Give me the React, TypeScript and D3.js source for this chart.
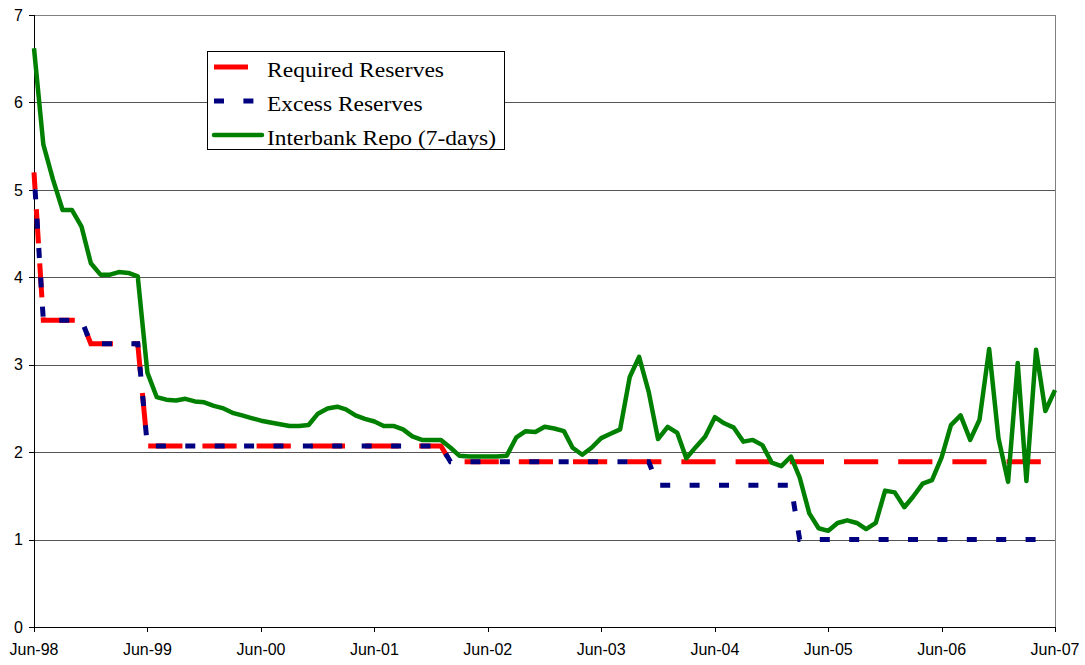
import React from "react";
import * as d3 from "d3";

const START = new Date(1998, 5, 1);
const END = new Date(2007, 5, 1);

const xTickLabels = ["Jun-98", "Jun-99", "Jun-00", "Jun-01", "Jun-02", "Jun-03", "Jun-04", "Jun-05", "Jun-06", "Jun-07"];
const yTicks = [0, 1, 2, 3, 4, 5, 6, 7];

const seriesNames = ["Required Reserves", "Excess Reserves", "Interbank Repo (7-days)"];

// Monthly values Jun-98 .. Jun-07 (109 months)
const repo = [
  6.62, 5.52, 5.12, 4.77, 4.77, 4.58, 4.16, 4.03, 4.03, 4.06, 4.05, 4.01,
  2.91, 2.63, 2.60, 2.59, 2.61, 2.58, 2.57, 2.53, 2.50, 2.45, 2.42, 2.39,
  2.36, 2.34, 2.32, 2.30, 2.30, 2.31, 2.44, 2.50, 2.52, 2.49, 2.42, 2.38,
  2.35, 2.30, 2.30, 2.26, 2.18, 2.14, 2.14, 2.14, 2.05, 1.96, 1.95, 1.95,
  1.95, 1.95, 1.96, 2.17, 2.24, 2.23, 2.29, 2.27, 2.24, 2.05, 1.97, 2.05,
  2.16, 2.21, 2.26, 2.86, 3.09, 2.69, 2.15, 2.29, 2.22, 1.93, 2.06, 2.18,
  2.40, 2.33, 2.28, 2.12, 2.14, 2.08, 1.88, 1.84, 1.95, 1.71, 1.30, 1.13,
  1.10, 1.19, 1.22, 1.19, 1.12, 1.19, 1.56, 1.54, 1.37, 1.49, 1.64, 1.68,
  1.94, 2.31, 2.42, 2.14, 2.37, 3.18, 2.16, 1.66, 3.02, 1.67, 3.17, 2.47,
  2.71,
];

const required = [
  5.2, 3.51, 3.51, 3.51, 3.51, 3.51, 3.24, 3.24, 3.24, 3.24, 3.24, 3.24,
  2.07, 2.07, 2.07, 2.07, 2.07, 2.07, 2.07, 2.07, 2.07, 2.07, 2.07, 2.07,
  2.07, 2.07, 2.07, 2.07, 2.07, 2.07, 2.07, 2.07, 2.07, 2.07, 2.07, 2.07,
  2.07, 2.07, 2.07, 2.07, 2.07, 2.07, 2.07, 2.07, 1.89, 1.89, 1.89, 1.89,
  1.89, 1.89, 1.89, 1.89, 1.89, 1.89, 1.89, 1.89, 1.89, 1.89, 1.89, 1.89,
  1.89, 1.89, 1.89, 1.89, 1.89, 1.89, 1.89, 1.89, 1.89, 1.89, 1.89, 1.89,
  1.89, 1.89, 1.89, 1.89, 1.89, 1.89, 1.89, 1.89, 1.89, 1.89, 1.89, 1.89,
  1.89, 1.89, 1.89, 1.89, 1.89, 1.89, 1.89, 1.89, 1.89, 1.89, 1.89, 1.89,
  1.89, 1.89, 1.89, 1.89, 1.89, 1.89, 1.89, 1.89, 1.89, 1.89, 1.89, 1.89,
  1.89,
];

const excess = [
  5.2, 3.51, 3.51, 3.51, 3.51, 3.51, 3.24, 3.24, 3.24, 3.24, 3.24, 3.24,
  2.07, 2.07, 2.07, 2.07, 2.07, 2.07, 2.07, 2.07, 2.07, 2.07, 2.07, 2.07,
  2.07, 2.07, 2.07, 2.07, 2.07, 2.07, 2.07, 2.07, 2.07, 2.07, 2.07, 2.07,
  2.07, 2.07, 2.07, 2.07, 2.07, 2.07, 2.07, 2.07, 1.89, 1.89, 1.89, 1.89,
  1.89, 1.89, 1.89, 1.89, 1.89, 1.89, 1.89, 1.89, 1.89, 1.89, 1.89, 1.89,
  1.89, 1.89, 1.89, 1.89, 1.89, 1.89, 1.62, 1.62, 1.62, 1.62, 1.62, 1.62,
  1.62, 1.62, 1.62, 1.62, 1.62, 1.62, 1.62, 1.62, 1.62, 1.0, 1.0, 1.0,
  1.0, 1.0, 1.0, 1.0, 1.0, 1.0, 1.0, 1.0, 1.0, 1.0, 1.0, 1.0,
  1.0, 1.0, 1.0, 1.0, 1.0, 1.0, 1.0, 1.0, 1.0, 1.0, 1.0, 1.0,
  1.0,
];

const W = 1085;
const H = 665;
const M = { left: 34, right: 1055, top: 15, bottom: 627 };

export default function App() {
  const x = d3.scaleTime().domain([START, END]).range([M.left, M.right]);
  const y = d3.scaleLinear().domain([0, 7]).range([M.bottom, M.top]);
  const dates = repo.map((_, i) => d3.timeMonth.offset(START, i));
  const tickDates = xTickLabels.map((_, i) => d3.timeMonth.offset(START, i * 12));

  const pts = (vals: number[]) => vals.map((v, i) => [x(dates[i]), y(v)] as [number, number]);
  const line = d3.line<[number, number]>().x((d) => d[0]).y((d) => d[1]);

  // dash phase helper: length along path to x-position on a given segment
  const lengthTo = (p: [number, number][], xTarget: number) => {
    let L = 0;
    for (let i = 1; i < p.length; i++) {
      const [x0, y0] = p[i - 1];
      const [x1, y1] = p[i];
      if (x1 >= xTarget) {
        const t = (xTarget - x0) / (x1 - x0);
        return L + t * Math.hypot(x1 - x0, y1 - y0);
      }
      L += Math.hypot(x1 - x0, y1 - y0);
    }
    return L;
  };
  const redPts = pts(required);
  const bluePts = pts(excess);
  const greenPts = pts(repo);
  const redPeriod = 54.2;
  const bluePeriod = 29.4;
  const redOff = (redPeriod - (lengthTo(redPts, 789.8) % redPeriod)) % redPeriod;
  const blueOff = (bluePeriod - (lengthTo(bluePts, 819.8) % bluePeriod)) % bluePeriod;

  const font = "'Liberation Sans', Arial, sans-serif";
  const serif = "'Liberation Serif', 'Times New Roman', serif";

  const legendRows = [
    { name: seriesNames[0], color: "#FF0000", dash: "34,20", width: 5, ty: 76.5, tl: 177 },
    { name: seriesNames[1], color: "#000080", dash: "10,19.4", width: 5, ty: 110.5, tl: 155.5 },
    { name: seriesNames[2], color: "#008000", dash: null as string | null, width: 4.5, ty: 144.5, tl: 229 },
  ];

  return (
    <div style={{ position: "fixed", left: 0, top: 0 }}>
      <svg width={W} height={H} style={{ display: "block", background: "#fff" }}>
        <rect x={0} y={0} width={W} height={H} fill="#fff" />
        {/* gridlines */}
        {yTicks.map((t) => (
          <line
            key={"g" + t}
            x1={M.left}
            x2={M.right}
            y1={Math.round(y(t)) + 0.5}
            y2={Math.round(y(t)) + 0.5}
            stroke={t === 7 ? "#808080" : "#555"}
            strokeWidth={1}
          />
        ))}
        {/* right border */}
        <line x1={M.right + 0.5} x2={M.right + 0.5} y1={M.top} y2={M.bottom} stroke="#808080" strokeWidth={1} />
        {/* y axis */}
        <line x1={M.left + 0.5} x2={M.left + 0.5} y1={M.top} y2={M.bottom + 5} stroke="#000" strokeWidth={1} />
        {yTicks.map((t) => (
          <g key={"yt" + t}>
            <line x1={M.left - 5} x2={M.left} y1={Math.round(y(t)) + 0.5} y2={Math.round(y(t)) + 0.5} stroke="#000" />
            <text x={23} y={y(t)} dy="0.36em" textAnchor="end" fontFamily={font} fontSize={16} fill="#000">
              {t}
            </text>
          </g>
        ))}
        {/* x axis */}
        <line x1={M.left} x2={M.right} y1={M.bottom + 0.5} y2={M.bottom + 0.5} stroke="#000" strokeWidth={1} />
        {tickDates.map((d, i) => (
          <g key={"xt" + i}>
            <line x1={Math.round(x(d)) + 0.5} x2={Math.round(x(d)) + 0.5} y1={M.bottom} y2={M.bottom + 5} stroke="#000" />
            <text x={x(d)} y={655} textAnchor="middle" fontFamily={font} fontSize={16} fill="#000">
              {xTickLabels[i]}
            </text>
          </g>
        ))}
        {/* series */}
        <path d={line(redPts) || ""} fill="none" stroke="#FF0000" strokeWidth={5} strokeDasharray="34.2,20" strokeDashoffset={redOff} />
        <path d={line(bluePts) || ""} fill="none" stroke="#000080" strokeWidth={5} strokeDasharray="10,19.4" strokeDashoffset={blueOff} />
        <path d={line(greenPts) || ""} fill="none" stroke="#008000" strokeWidth={4.5} strokeLinejoin="round" />
        {/* legend */}
        <rect x={207.5} y={51.5} width={297} height={98} fill="#fff" stroke="#000" strokeWidth={1} />
        {legendRows.map((r, i) => (
          <g key={"lg" + i}>
            <line
              x1={214}
              x2={262}
              y1={r.ty - 9.5}
              y2={r.ty - 9.5}
              stroke={r.color}
              strokeWidth={r.width}
              strokeDasharray={r.dash || undefined}
              strokeLinecap={r.dash ? "butt" : "round"}
            />
            <text
              x={267}
              y={r.ty}
              fontFamily={serif}
              fontSize={21}
              textLength={r.tl}
              lengthAdjust="spacingAndGlyphs"
              fill="#000"
            >
              {r.name}
            </text>
          </g>
        ))}
      </svg>
    </div>
  );
}
